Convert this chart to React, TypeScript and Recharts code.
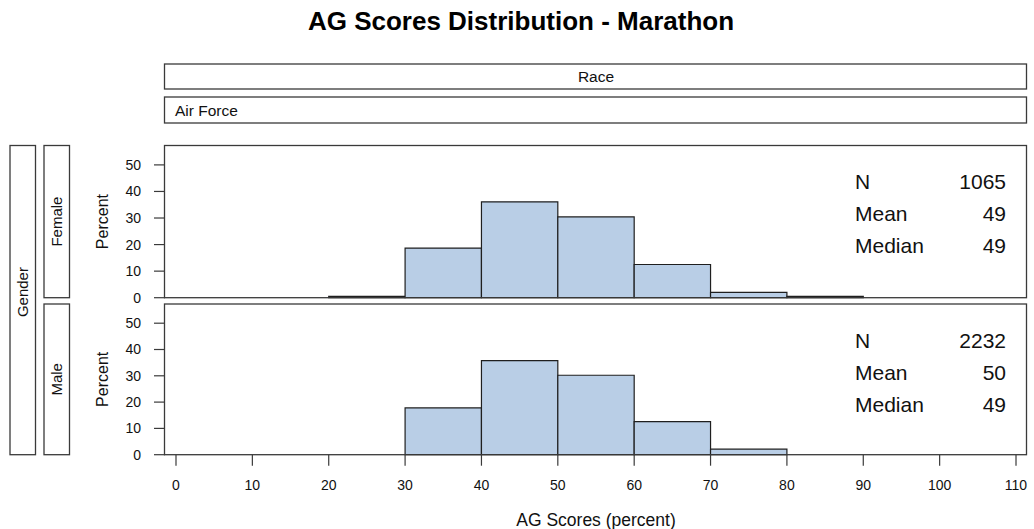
import React from "react";
import { ComposedChart, ReferenceArea, XAxis, YAxis, Line } from "recharts";

// histogram bins (lower edge, width 10)
const binStarts = [20, 30, 40, 50, 60, 70, 80];
const femalePct = [0.5, 18.7, 36.1, 30.4, 12.5, 2.0, 0.5];
const malePct = [0, 17.8, 35.8, 30.2, 12.6, 2.1, 0];

const statLabels = ["N", "Mean", "Median"];
const femaleStats = [1065, 49, 49];
const maleStats = [2232, 50, 49];

const xTicks = [0, 10, 20, 30, 40, 50, 60, 70, 80, 90, 100, 110];
const yTicks = [0, 10, 20, 30, 40, 50];

const BIN_WIDTH = 10;
const X_DOMAIN: [number, number] = [-1.44, 111.44];
const Y_DOMAIN: [number, number] = [0, 57.3];

const FONT = "'Liberation Sans', Arial, sans-serif";
const FILL = "#b9cee6";
const EDGE = "#1f1f1f";
const FRAME = "#3a3a3a";

const W = 1034;
const H = 529;
const PLOT_LEFT = 165;
const PLOT_RIGHT = 1027;
const Y_AXIS_W = 60;
const TOP_PANEL = { top: 145.5, bottom: 297.7 };
const BOT_PANEL = { top: 304, bottom: 454.7 };

const plotW = PLOT_RIGHT - PLOT_LEFT;

const tickStyle = { fontSize: 14, fill: "#111", fontFamily: FONT };

function Panel({
  values,
  panel,
  height,
  showX,
}: {
  values: number[];
  panel: { top: number; bottom: number };
  height: number;
  showX: boolean;
}) {
  const xAxisH = showX ? 44 : 0;
  const rows = binStarts.map((s, i) => ({ x: s, pct: values[i] }));
  return (
    <div style={{ position: "absolute", left: 0, top: 0 }}>
      <ComposedChart
        width={W}
        height={height}
        data={rows}
        margin={{
          top: panel.top,
          right: W - PLOT_RIGHT,
          bottom: height - panel.bottom - xAxisH,
          left: PLOT_LEFT - Y_AXIS_W,
        }}
      >
        <XAxis
          dataKey="x"
          type="number"
          domain={X_DOMAIN}
          allowDataOverflow
          ticks={xTicks}
          hide={!showX}
          height={xAxisH}
          tickSize={11}
          tickMargin={14}
          axisLine={false}
          tickLine={{ stroke: FRAME, strokeWidth: 1.2 }}
          tick={tickStyle}
          interval={0}
        />
        <YAxis
          type="number"
          domain={Y_DOMAIN}
          allowDataOverflow
          ticks={yTicks}
          width={Y_AXIS_W}
          tickSize={11}
          tickMargin={13}
          axisLine={false}
          tickLine={{ stroke: FRAME, strokeWidth: 1.2 }}
          tick={tickStyle}
          interval={0}
        />
        {/* carries the data for the axes; the bins below are the visible marks */}
        <Line dataKey="pct" stroke="none" dot={false} isAnimationActive={false} />
        {rows
          .filter((r) => r.pct > 0)
          .map((r) => (
            <ReferenceArea
              key={r.x}
              x1={r.x}
              x2={r.x + BIN_WIDTH}
              y1={0}
              y2={r.pct}
              fill={FILL}
              fillOpacity={1}
              stroke={EDGE}
              strokeWidth={1.2}
              ifOverflow="visible"
            />
          ))}
      </ComposedChart>
    </div>
  );
}

function StatsBlock({ values, baseline }: { values: number[]; baseline: number }) {
  return (
    <g fontFamily={FONT} fontSize={21} fill="#111">
      {statLabels.map((lab, i) => (
        <g key={lab}>
          <text x={855} y={baseline + i * 32}>
            {lab}
          </text>
          <text x={1006} y={baseline + i * 32} textAnchor="end">
            {values[i]}
          </text>
        </g>
      ))}
    </g>
  );
}

function Frames() {
  const frame = { fill: "none", stroke: FRAME, strokeWidth: 1.3 };
  const midTop = (TOP_PANEL.top + TOP_PANEL.bottom) / 2;
  const midBot = (BOT_PANEL.top + BOT_PANEL.bottom) / 2;
  return (
    <svg
      width={W}
      height={H}
      style={{ position: "absolute", left: 0, top: 0, pointerEvents: "none" }}
    >
      <text
        x={521}
        y={30}
        textAnchor="middle"
        fontFamily={FONT}
        fontWeight="bold"
        fontSize={26}
        fill="#000"
      >
        AG Scores Distribution - Marathon
      </text>

      {/* column strips */}
      <rect x={PLOT_LEFT - 0.5} y={64} width={plotW} height={25} {...frame} />
      <text x={(PLOT_LEFT + PLOT_RIGHT) / 2} y={82} textAnchor="middle" fontFamily={FONT} fontSize={15.5} fill="#111">
        Race
      </text>
      <rect x={PLOT_LEFT - 0.5} y={97} width={plotW} height={26} {...frame} />
      <text x={175} y={116} fontFamily={FONT} fontSize={15.5} fill="#111">
        Air Force
      </text>

      {/* row strips */}
      <rect x={10} y={TOP_PANEL.top} width={25.5} height={BOT_PANEL.bottom - TOP_PANEL.top} {...frame} />
      <text
        transform={`translate(28 ${(TOP_PANEL.top + BOT_PANEL.bottom) / 2 - 8}) rotate(-90)`}
        textAnchor="middle"
        fontFamily={FONT}
        fontSize={15}
        fill="#111"
      >
        Gender
      </text>
      <rect x={44} y={TOP_PANEL.top} width={25.5} height={TOP_PANEL.bottom - TOP_PANEL.top} {...frame} />
      <text transform={`translate(62 ${midTop}) rotate(-90)`} textAnchor="middle" fontFamily={FONT} fontSize={15} fill="#111">
        Female
      </text>
      <rect x={44} y={BOT_PANEL.top} width={25.5} height={BOT_PANEL.bottom - BOT_PANEL.top} {...frame} />
      <text transform={`translate(62 ${midBot}) rotate(-90)`} textAnchor="middle" fontFamily={FONT} fontSize={15} fill="#111">
        Male
      </text>

      {/* y-axis titles */}
      <text transform={`translate(108 ${midTop}) rotate(-90)`} textAnchor="middle" fontFamily={FONT} fontSize={16} fill="#111">
        Percent
      </text>
      <text transform={`translate(108 ${midBot}) rotate(-90)`} textAnchor="middle" fontFamily={FONT} fontSize={16} fill="#111">
        Percent
      </text>

      {/* panel borders */}
      <rect x={PLOT_LEFT - 0.5} y={TOP_PANEL.top} width={plotW} height={TOP_PANEL.bottom - TOP_PANEL.top} {...frame} />
      <rect x={PLOT_LEFT - 0.5} y={BOT_PANEL.top} width={plotW} height={BOT_PANEL.bottom - BOT_PANEL.top} {...frame} />

      <StatsBlock values={femaleStats} baseline={188.5} />
      <StatsBlock values={maleStats} baseline={347.5} />

      <text x={(PLOT_LEFT + PLOT_RIGHT) / 2} y={526} textAnchor="middle" fontFamily={FONT} fontSize={17.5} fill="#111">
        AG Scores (percent)
      </text>
    </svg>
  );
}

export default function App() {
  return (
    <div
      style={{
        position: "absolute",
        left: 0,
        top: 0,
        width: W,
        height: H,
        background: "#fff",
        overflow: "hidden",
      }}
    >
      <Panel values={femalePct} panel={TOP_PANEL} height={310} showX={false} />
      <Panel values={malePct} panel={BOT_PANEL} height={H} showX={true} />
      <Frames />
    </div>
  );
}
